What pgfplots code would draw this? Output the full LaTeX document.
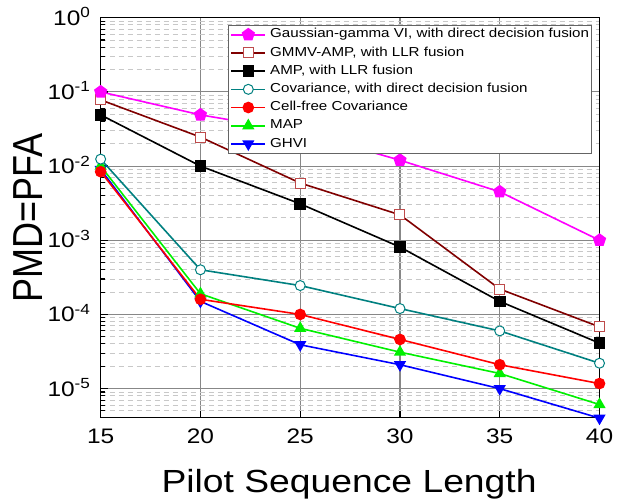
\documentclass[border=0pt]{standalone}
\usepackage{pgfplots}
\pgfplotsset{compat=1.18}
\usetikzlibrary{plotmarks}
\usepackage{fontspec}
\setmainfont{Liberation Sans}[FakeStretch=1.165]
\newfontfamily\ylabfont{Liberation Sans}[FakeStretch=0.858]
\definecolor{cmag}{RGB}{255,0,255}
\definecolor{cdred}{RGB}{128,0,0}
\definecolor{csq}{RGB}{190,75,75}
\definecolor{cteal}{RGB}{0,128,128}
\definecolor{cred}{RGB}{255,0,0}
\definecolor{cgreen}{RGB}{0,240,0}
\definecolor{cblue}{RGB}{0,0,255}
\definecolor{cgrid}{RGB}{135,135,135}
\definecolor{cminor}{RGB}{200,200,200}
\definecolor{clegbox}{RGB}{100,100,100}
\begin{document}
\begin{tikzpicture}
\begin{axis}[
  scale only axis, width=499pt, height=400pt,
  ymode=log, xmin=15, xmax=40, ymin=4.07e-6, ymax=1,
  clip=false,
  xtick={15,20,25,30,35,40},
  ytick={1e-5,1e-4,1e-3,1e-2,1e-1,1},
  yticklabels={10\textsuperscript{-5},10\textsuperscript{-4},10\textsuperscript{-3},10\textsuperscript{-2},10\textsuperscript{-1},10\textsuperscript{0}},
  minor ytick={5e-6,6e-6,7e-6,8e-6,9e-6,
    2e-5,3e-5,4e-5,5e-5,6e-5,7e-5,8e-5,9e-5,
    2e-4,3e-4,4e-4,5e-4,6e-4,7e-4,8e-4,9e-4,
    2e-3,3e-3,4e-3,5e-3,6e-3,7e-3,8e-3,9e-3,
    2e-2,3e-2,4e-2,5e-2,6e-2,7e-2,8e-2,9e-2,
    2e-1,3e-1,4e-1,5e-1,6e-1,7e-1,8e-1,9e-1},
  tick pos=left, tick align=inside,
  major tick length=7pt, minor tick length=4.5pt,
  every tick/.append style={black, line width=1.3pt},
  every minor tick/.append style={black, line width=1.1pt},
  axis line style={black, line width=1.5pt},
  xmajorgrids, ymajorgrids, yminorgrids,
  major grid style={cgrid, line width=1.1pt},
  minor grid style={cminor, line width=0.9pt, dash pattern=on 5pt off 4pt},
  /pgf/number format/assume math mode=true,
  ticklabel style={font=\fontsize{21}{24}\selectfont, inner sep=0pt},
  xticklabel shift=11pt,
  yticklabel shift=10pt,
  yticklabel style={anchor=base east, yshift=-7.5pt},
  xlabel={Pilot Sequence Length},
  ylabel={PMD=PFA},
  xlabel style={font=\fontsize{32}{36}\selectfont, inner sep=0pt, at={(axis description cs:0.498,-0.1875)}, anchor=base},
  ylabel style={font=\ylabfont\fontsize{42}{46}\selectfont, inner sep=0pt, at={(axis description cs:-0.1156,0.5)}, anchor=south},
  legend image code/.code={\draw[mark repeat=2,mark phase=2] plot coordinates {(0cm,0cm) (0.6cm,0cm) (1.2cm,0cm)};},
  reverse legend,
  legend cell align=left,
  legend style={at={(1,1)}, anchor=north east, xshift=-8pt, yshift=-7pt,
    draw=clegbox, line width=0.8pt, fill=white,
    font=\fontsize{13}{15}\selectfont,
    inner xsep=2pt, inner ysep=3.4pt, row sep=5.7pt, column sep=4pt,
    nodes={inner sep=0pt, text height=9.5pt, text depth=3pt}},
]
\addplot[cblue, line width=1.6pt, mark=triangle*, mark size=5.5pt, mark options={rotate=180, solid, fill=cblue}]
  coordinates {(15,0.009) (20,1.5e-4) (25,3.9e-5) (30,2.1e-5) (35,1.0e-5) (40,4.0e-6)};
\addlegendentry{GHVI}
\addplot[cgreen, line width=1.6pt, mark=triangle*, mark size=5.5pt, mark options={solid, fill=cgreen}]
  coordinates {(15,0.0100) (20,1.9e-4) (25,6.5e-5) (30,3.1e-5) (35,1.6e-5) (40,6.1e-6)};
\addlegendentry{MAP}
\addplot[cred, line width=1.6pt, mark=*, mark size=5pt, mark options={solid, fill=cred}]
  coordinates {(15,0.0084) (20,1.6e-4) (25,1.0e-4) (30,4.6e-5) (35,2.1e-5) (40,1.17e-5)};
\addlegendentry{Cell-free Covariance}
\addplot[cteal, line width=1.6pt, mark=*, mark size=5pt, mark options={solid, fill=white, line width=1pt}]
  coordinates {(15,0.0124) (20,4.0e-4) (25,2.45e-4) (30,1.2e-4) (35,6.0e-5) (40,2.2e-5)};
\addlegendentry{Covariance, with direct decision fusion}
\addplot[black, line width=1.6pt, mark=square*, mark size=5pt, mark options={solid, fill=black}]
  coordinates {(15,0.049) (20,0.0100) (25,3.1e-3) (30,8.1e-4) (35,1.5e-4) (40,4.1e-5)};
\addlegendentry{AMP, with LLR fusion}
\addplot[cdred, line width=1.6pt, mark=square*, mark size=5pt, mark options={solid, fill=white, draw=csq, line width=1pt}]
  coordinates {(15,0.078) (20,0.0246) (25,5.9e-3) (30,2.2e-3) (35,2.2e-4) (40,6.8e-5)};
\addlegendentry{GMMV-AMP, with LLR fusion}
\addplot[cmag, line width=1.6pt, mark=pentagon*, mark size=6pt, mark options={solid, fill=cmag}]
  coordinates {(15,0.100) (20,0.049) (25,0.029) (30,0.012) (35,0.0045) (40,0.0010)};
\addlegendentry{Gaussian-gamma VI, with direct decision fusion}
\end{axis}
\useasboundingbox ([shift={(-100.7pt,-83pt)}]current axis.south west) rectangle ([shift={(23.5pt,17.7pt)}]current axis.north east);
\end{tikzpicture}
\end{document}
